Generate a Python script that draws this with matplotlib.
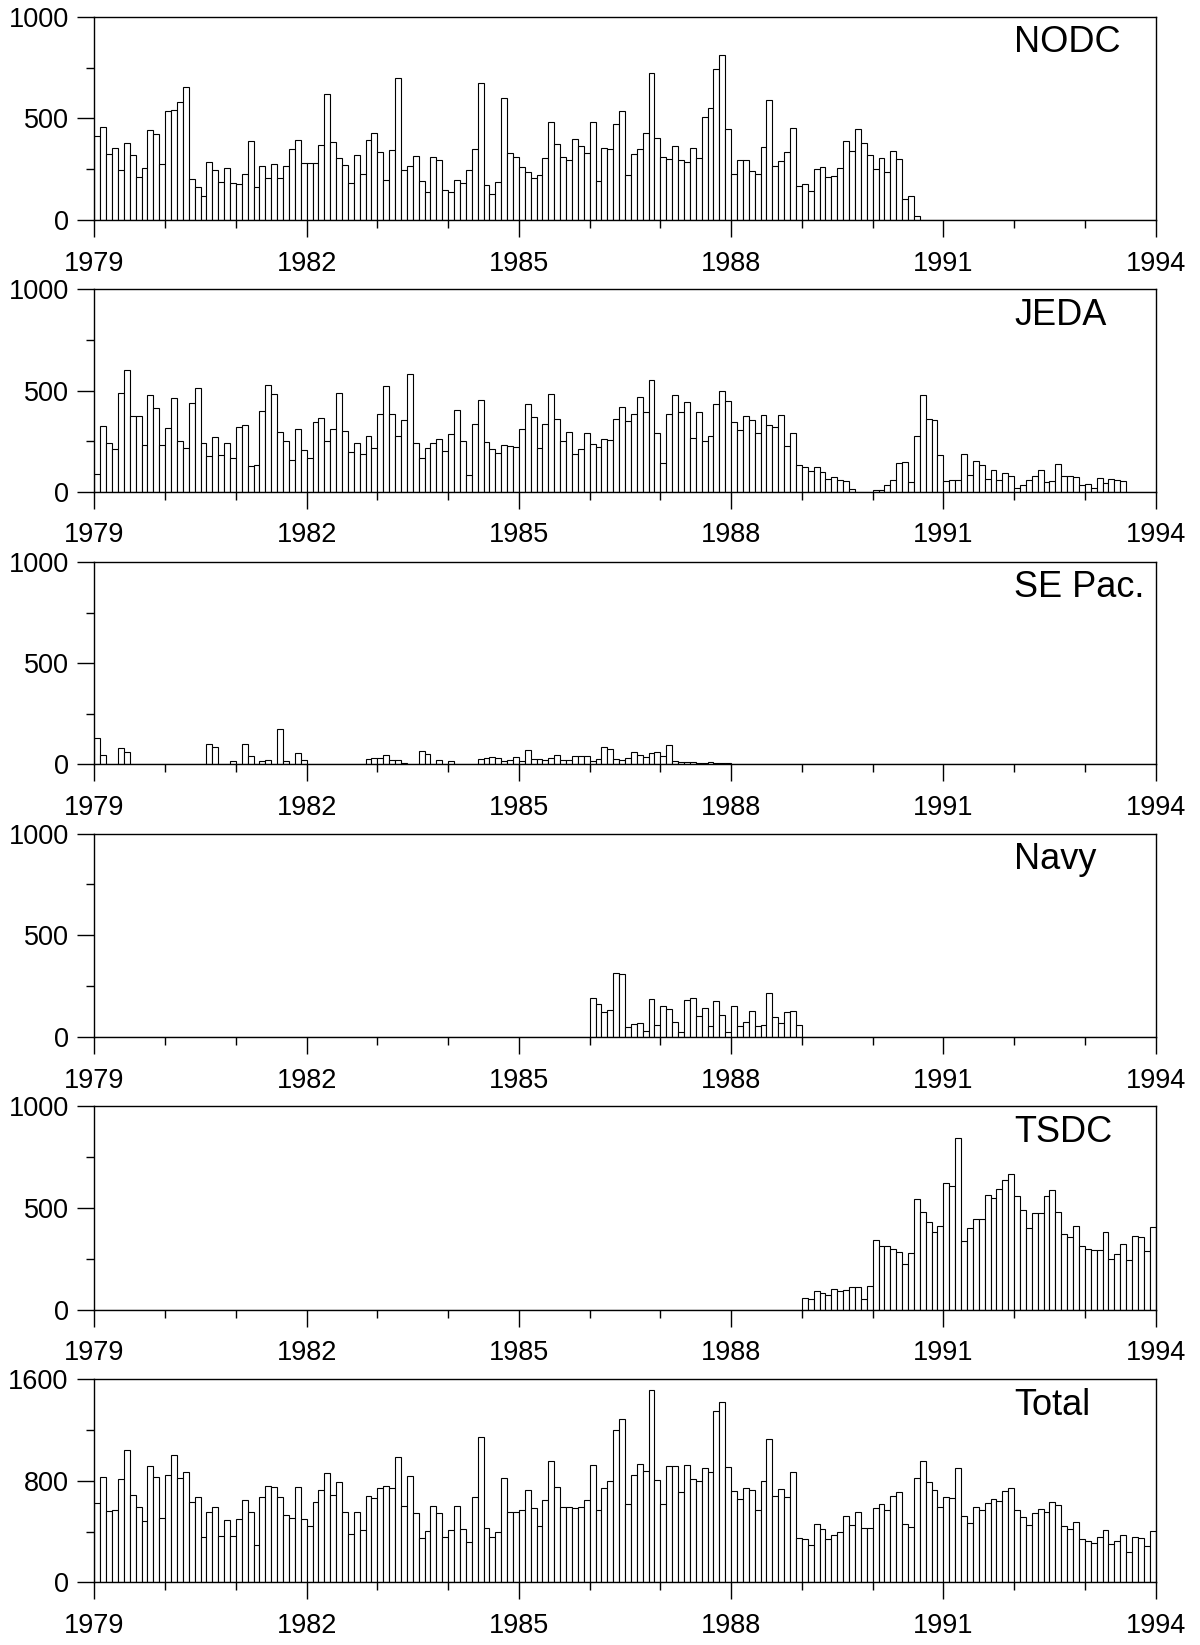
import numpy as np
import matplotlib
matplotlib.use("Agg")
import matplotlib.pyplot as plt
from matplotlib.ticker import MultipleLocator, FixedLocator

plt.rcParams['font.family'] = ['Liberation Sans', 'DejaVu Sans']

start_year = 1979
end_year = 1994
year_labels = [1979, 1982, 1985, 1988, 1991, 1994]

nodc = [
    411, 459, 323, 356, 244, 379, 318, 213, 254, 441, 421, 277,
    536, 543, 579, 656, 203, 164, 120, 287, 244, 185, 256, 184,
    179, 226, 387, 164, 266, 208, 274, 205, 267, 349, 392, 279,
    279, 279, 369, 620, 382, 307, 269, 182, 320, 228, 393, 430,
    334, 195, 343, 698, 246, 267, 313, 190, 138, 311, 295, 148,
    136, 195, 184, 248, 348, 675, 172, 126, 189, 598, 331, 311,
    262, 236, 208, 221, 307, 484, 375, 311, 297, 398, 362, 330,
    480, 192, 354, 348, 470, 538, 220, 323, 348, 426, 723, 403,
    311, 300, 366, 295, 287, 354, 303, 505, 549, 743, 811, 446,
    228, 295, 295, 241, 226, 359, 592, 267, 290, 336, 454, 169,
    179, 144, 249, 259, 211, 215, 256, 387, 338, 448, 379, 321,
    252, 305, 234, 339, 300, 103, 118, 20, 0, 0, 0, 0,
    0, 0, 0, 0, 0, 0, 0, 0, 0, 0, 0, 0,
    0, 0, 0, 0, 0, 0, 0, 0, 0, 0, 0, 0,
    0, 0, 0, 0, 0, 0, 0, 0, 0, 0, 0, 0,
]

jeda = [
    90, 326, 239, 212, 487, 603, 373, 376, 233, 477, 412, 230,
    313, 463, 251, 217, 438, 511, 241, 178, 272, 181, 241, 166,
    319, 329, 129, 132, 401, 526, 482, 296, 251, 156, 311, 208,
    166, 347, 365, 249, 311, 490, 298, 199, 243, 189, 274, 215,
    383, 524, 383, 277, 355, 583, 241, 169, 215, 243, 262, 200,
    287, 404, 249, 83, 337, 456, 244, 210, 191, 230, 225, 220,
    308, 436, 370, 215, 335, 482, 360, 251, 295, 186, 212, 290,
    236, 223, 262, 256, 362, 420, 350, 383, 467, 392, 550, 290,
    143, 386, 476, 396, 446, 264, 392, 249, 277, 436, 500, 448,
    347, 303, 375, 355, 290, 381, 329, 321, 378, 225, 290, 130,
    121, 101, 124, 96, 64, 72, 59, 52, 13, 0, 0, 0,
    10, 7, 34, 59, 143, 145, 47, 274, 477, 358, 355, 184,
    52, 60, 60, 189, 83, 150, 132, 64, 109, 60, 93, 78,
    21, 36, 57, 77, 107, 48, 52, 135, 77, 77, 75, 36,
    39, 21, 68, 44, 62, 59, 55, 0, 0, 0, 0, 0,
]

se_pac = [
    128, 46, 3, 3, 81, 61, 0, 0, 0, 0, 0, 0,
    0, 0, 0, 0, 0, 0, 0, 102, 86, 0, 0, 16,
    0, 100, 43, 0, 16, 23, 0, 173, 18, 0, 56, 23,
    0, 4, 4, 0, 0, 0, 0, 0, 0, 0, 26, 31,
    31, 48, 23, 23, 7, 0, 0, 64, 53, 0, 20, 0,
    16, 0, 0, 0, 0, 25, 31, 38, 33, 15, 23, 38,
    15, 72, 25, 25, 20, 31, 48, 23, 20, 43, 43, 43,
    16, 25, 86, 76, 26, 20, 30, 60, 45, 35, 55, 60,
    40, 95, 15, 12, 10, 12, 5, 8, 10, 5, 8, 5,
    0, 0, 0, 0, 0, 0, 0, 0, 0, 0, 0, 0,
    0, 0, 0, 0, 0, 0, 0, 0, 0, 0, 0, 0,
    0, 0, 0, 0, 0, 0, 0, 0, 0, 0, 0, 0,
    0, 0, 0, 0, 0, 0, 0, 0, 0, 0, 0, 0,
    0, 0, 0, 0, 0, 0, 0, 0, 0, 0, 0, 0,
    0, 0, 0, 0, 0, 0, 0, 0, 0, 0, 0, 0,
]

navy = [
    0, 0, 0, 0, 0, 0, 0, 0, 0, 0, 0, 0,
    0, 0, 0, 0, 0, 0, 0, 0, 0, 0, 0, 0,
    0, 0, 0, 0, 0, 0, 0, 0, 0, 0, 0, 0,
    0, 0, 0, 0, 0, 0, 0, 0, 0, 0, 0, 0,
    0, 0, 0, 0, 0, 0, 0, 0, 0, 0, 0, 0,
    0, 0, 0, 0, 0, 0, 0, 0, 0, 0, 0, 0,
    0, 0, 0, 0, 0, 0, 0, 0, 0, 0, 0, 0,
    190, 162, 124, 134, 315, 311, 48, 66, 70, 30, 187, 61,
    151, 139, 75, 25, 182, 192, 104, 144, 53, 177, 109, 23,
    151, 55, 76, 129, 56, 61, 217, 98, 71, 121, 126, 58,
    0, 0, 0, 0, 0, 0, 0, 0, 0, 0, 0, 0,
    0, 0, 0, 0, 0, 0, 0, 0, 0, 0, 0, 0,
    0, 0, 0, 0, 0, 0, 0, 0, 0, 0, 0, 0,
    0, 0, 0, 0, 0, 0, 0, 0, 0, 0, 0, 0,
    0, 0, 0, 0, 0, 0, 0, 0, 0, 0, 0, 0,
]

tsdc = [
    0, 0, 0, 0, 0, 0, 0, 0, 0, 0, 0, 0,
    0, 0, 0, 0, 0, 0, 0, 0, 0, 0, 0, 0,
    0, 0, 0, 0, 0, 0, 0, 0, 0, 0, 0, 0,
    0, 0, 0, 0, 0, 0, 0, 0, 0, 0, 0, 0,
    0, 0, 0, 0, 0, 0, 0, 0, 0, 0, 0, 0,
    0, 0, 0, 0, 0, 0, 0, 0, 0, 0, 0, 0,
    0, 0, 0, 0, 0, 0, 0, 0, 0, 0, 0, 0,
    0, 0, 0, 0, 0, 0, 0, 0, 0, 0, 0, 0,
    0, 0, 0, 0, 0, 0, 0, 0, 0, 0, 0, 0,
    0, 0, 0, 0, 0, 0, 0, 0, 0, 0, 0, 0,
    57, 52, 92, 82, 74, 101, 92, 96, 113, 111, 54, 114,
    342, 315, 315, 297, 281, 224, 278, 542, 482, 431, 379, 410,
    624, 608, 843, 337, 399, 443, 446, 565, 547, 592, 636, 667,
    557, 487, 402, 475, 475, 560, 588, 479, 373, 355, 412, 312,
    299, 294, 294, 379, 248, 275, 324, 242, 361, 356, 288, 405,
]

total = [
    628, 828, 560, 568, 815, 1042, 688, 591, 484, 914, 828, 508,
    844, 1000, 823, 870, 635, 674, 359, 557, 596, 365, 487, 365,
    495, 646, 555, 294, 669, 755, 750, 669, 529, 505, 750, 497,
    443, 630, 727, 859, 685, 789, 557, 378, 552, 414, 680, 664,
    740, 760, 740, 987, 599, 839, 542, 352, 404, 599, 547, 359,
    411, 599, 422, 318, 674, 1141, 427, 359, 396, 818, 557, 552,
    568, 729, 583, 443, 648, 956, 747, 594, 596, 583, 596, 646,
    927, 568, 745, 799, 1198, 1286, 620, 844, 935, 880, 1516, 805,
    620, 917, 917, 711, 922, 813, 797, 898, 872, 1352, 1422, 911,
    719, 656, 742, 727, 573, 799, 1125, 682, 734, 674, 867, 349,
    344, 297, 456, 419, 339, 375, 396, 521, 451, 552, 427, 427,
    589, 615, 573, 682, 714, 461, 435, 823, 956, 789, 729, 594,
    669, 664, 896, 523, 469, 591, 570, 622, 654, 643, 716, 740,
    568, 518, 453, 547, 581, 557, 633, 609, 445, 419, 479, 339,
    328, 313, 354, 411, 302, 328, 372, 240, 357, 352, 286, 404,
]

panel_names = ["NODC", "JEDA", "SE Pac.", "Navy", "TSDC", "Total"]
panel_data = [nodc, jeda, se_pac, navy, tsdc, total]
panel_ymax = [1000, 1000, 1000, 1000, 1000, 1600]

# layout in pixels (figure 1200 x 1645)
W, H = 1200, 1645
left_px, right_px = 94.4, 1155.6
top_px = [16.8, 289.4, 562.0, 833.6, 1106.0, 1379.0]
zero_px = [220.0, 491.8, 764.4, 1037.0, 1309.7, 1582.4]

fig = plt.figure(figsize=(W / 100, H / 100), dpi=100)

for name, data, ymax, tp, zp in zip(panel_names, panel_data, panel_ymax, top_px, zero_px):
    ax = fig.add_axes([left_px / W, 1 - zp / H, (right_px - left_px) / W, (zp - tp) / H])
    vals = np.array(data, dtype=float)
    x = start_year + np.arange(len(vals)) / 12.0
    ax.bar(x, vals, width=1 / 12.0, align='edge', color='white',
           edgecolor='black', linewidth=0.8)
    ax.set_xlim(start_year, end_year)
    ax.set_ylim(0, ymax)
    ax.xaxis.set_major_locator(FixedLocator(year_labels))
    ax.xaxis.set_minor_locator(MultipleLocator(1))
    ax.yaxis.set_major_locator(MultipleLocator(ymax / 2))
    ax.yaxis.set_minor_locator(MultipleLocator(ymax / 4))
    ax.set_xticklabels([str(y) for y in year_labels])
    ax.tick_params(axis='both', which='major', direction='out', length=12,
                   width=1.0, labelsize=19.5, colors='black')
    ax.tick_params(axis='both', which='minor', direction='out', length=6, width=1.0)
    ax.tick_params(axis='x', which='major', pad=10)
    ax.tick_params(axis='y', which='major', pad=6.5)
    for sp in ax.spines.values():
        sp.set_linewidth(1.0)
    ax.text(0.8666, 0.872, name, transform=ax.transAxes, ha='left', va='center',
            fontsize=26, color='black')

fig.savefig("out.png", dpi=100)
